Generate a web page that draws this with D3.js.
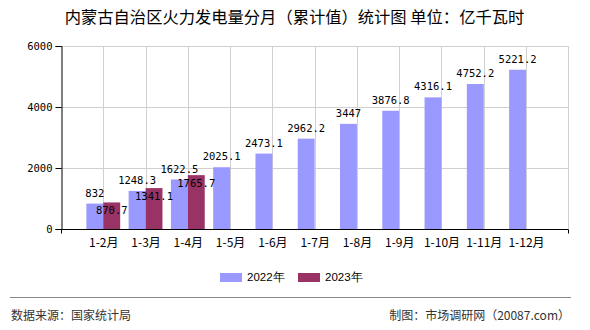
<!DOCTYPE html>
<html>
<head>
<meta charset="utf-8">
<script src="https://cdn.jsdelivr.net/npm/d3@7"></script>
<style>
  html, body { margin: 0; padding: 0; background: #fff; }
  svg { display: block; }
</style>
</head>
<body>
<svg id="chart" width="590" height="330"></svg>
<script>
const categories = ["1-2月","1-3月","1-4月","1-5月","1-6月","1-7月","1-8月","1-9月","1-10月","1-11月","1-12月"];
const values2022 = [832, 1248.3, 1622.5, 2025.1, 2473.1, 2962.2, 3447, 3876.8, 4316.1, 4752.2, 5221.2];
const values2023 = [870.7, 1341.1, 1765.7, null, null, null, null, null, null, null, null];
const seriesNames = ["2022年", "2023年"];
const seriesColors = ["#9999ff", "#993366"];
const yTicks = [0, 2000, 4000, 6000];
const titleText = "内蒙古自治区火力发电量分月（累计值）统计图 单位：亿千瓦时";
const sourceText = "数据来源：国家统计局";
const creditText = "制图：市场调研网（20087.com）";

(function () {
const svg = d3.select("#chart");
const cjk = "'Noto Sans CJK SC', 'Noto Sans', sans-serif";
const mono = "'DejaVu Sans Mono', 'Liberation Mono', monospace";

const pLeft = 61, pRight = 568.3, pTop = 46, pBottom = 229;

const x = d3.scalePoint().domain(categories).range([pLeft, pRight]).padding(1);
const step = x.step();
const barW = step * 0.4;
const y = d3.scaleLinear().domain([0, 6000]).range([pBottom, pTop]);

// title
svg.append("text").attr("x", 294.5).attr("y", 23).attr("text-anchor", "middle")
  .attr("font-family", cjk).attr("font-size", 16.3).attr("fill", "#000")
  .text(titleText);

// horizontal grid
svg.append("g").selectAll("line").data(yTicks.filter(d => d > 0)).join("line")
  .attr("x1", pLeft).attr("x2", pRight)
  .attr("y1", d => Math.round(y(d)) + 0.5).attr("y2", d => Math.round(y(d)) + 0.5)
  .attr("stroke", "#d0d0d0").attr("stroke-width", 1);

// vertical grid (at category centers and right edge)
const vLines = categories.map(c => x(c)).concat([pRight]);
svg.append("g").selectAll("line").data(vLines).join("line")
  .attr("x1", d => Math.round(d) + 0.5).attr("x2", d => Math.round(d) + 0.5)
  .attr("y1", pTop).attr("y2", pBottom)
  .attr("stroke", "#d0d0d0").attr("stroke-width", 1);

// bars
const series = [values2022, values2023];
series.forEach((vals, si) => {
  svg.append("g").selectAll("rect")
    .data(categories.map((c, i) => ({ c, v: vals[i] })).filter(d => d.v != null))
    .join("rect")
    .attr("x", d => si === 0 ? x(d.c) - barW : x(d.c))
    .attr("y", d => y(d.v))
    .attr("width", barW)
    .attr("height", d => pBottom - y(d.v))
    .attr("fill", seriesColors[si]);
});

// y axis
const yAxis = d3.axisLeft(y).tickValues(yTicks).tickSize(6).tickPadding(3).tickFormat(d3.format("d"));
const gy = svg.append("g").attr("transform", `translate(${pLeft + 0.5},0)`).call(yAxis);
gy.select(".domain").attr("stroke", "#000");
gy.selectAll(".tick line").attr("stroke", "#000");
gy.selectAll(".tick text").attr("font-family", mono).attr("font-size", 10.5).attr("fill", "#000");

// x axis
const xAxis = d3.axisBottom(x).tickSize(0).tickPadding(9);
const gx = svg.append("g").attr("transform", `translate(0,${pBottom + 0.5})`).call(xAxis);
gx.select(".domain").attr("stroke", "#000").attr("d", `M${pLeft},0H${pRight}`);
gx.selectAll(".tick text").attr("font-family", cjk).attr("font-size", 12).attr("fill", "#000");
[pLeft, pRight].forEach(px => {
  gx.append("line").attr("x1", Math.round(px) + 0.5).attr("x2", Math.round(px) + 0.5)
    .attr("y1", 0).attr("y2", 4).attr("stroke", "#000");
});

// value labels
svg.append("g").selectAll("text")
  .data(categories.map((c, i) => ({ c, v: values2022[i] })))
  .join("text")
  .attr("x", d => x(d.c) - barW / 2)
  .attr("y", d => y(d.v) - 7)
  .attr("text-anchor", "middle")
  .attr("font-family", mono).attr("font-size", 10.5).attr("fill", "#000")
  .text(d => d.v);

svg.append("g").selectAll("text")
  .data(categories.map((c, i) => ({ c, v: values2023[i] })).filter(d => d.v != null))
  .join("text")
  .attr("x", d => x(d.c) + barW / 2)
  .attr("y", d => y(d.v) + 12)
  .attr("text-anchor", "middle")
  .attr("font-family", mono).attr("font-size", 10.5).attr("fill", "#000")
  .text(d => d.v);

// legend
const legendX = [220, 298];
seriesNames.forEach((name, i) => {
  svg.append("rect").attr("x", legendX[i]).attr("y", 273).attr("width", 22).attr("height", 9)
    .attr("fill", seriesColors[i]);
  svg.append("text").attr("x", legendX[i] + 27).attr("y", 281)
    .attr("font-family", "'Liberation Sans', Arial, sans-serif").attr("font-size", 11.5).attr("fill", "#000")
    .text(name);
});

// footer
svg.append("line").attr("x1", 10).attr("x2", 571).attr("y1", 297.5).attr("y2", 297.5)
  .attr("stroke", "#888").attr("stroke-width", 1);
svg.append("text").attr("x", 11).attr("y", 320)
  .attr("font-family", cjk).attr("font-size", 12).attr("fill", "#333")
  .text(sourceText);
svg.append("text").attr("x", 570).attr("y", 320).attr("text-anchor", "end")
  .attr("font-family", cjk).attr("font-size", 12).attr("fill", "#333")
  .text(creditText);
})();
</script>
</body>
</html>
